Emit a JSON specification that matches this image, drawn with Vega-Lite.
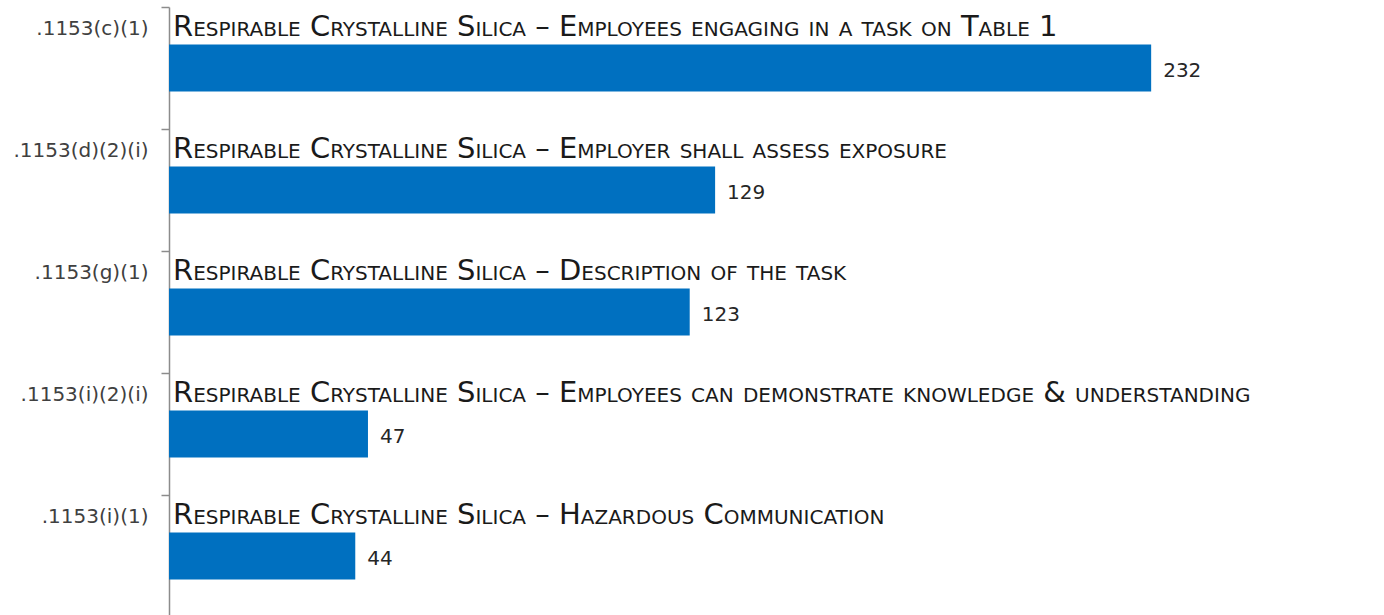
{
  "$schema": "https://vega.github.io/schema/vega-lite/v6.json",
  "autosize": "none",
  "padding": {"left": 169, "top": 7, "right": 0, "bottom": 0},
  "width": 1215,
  "height": 610,
  "background": "white",
  "data": {"values": [
    {"code": ".1153(c)(1)", "title": "Respirable Crystalline Silica – Employees engaging in a task on Table 1", "count": 232},
    {"code": ".1153(d)(2)(i)", "title": "Respirable Crystalline Silica – Employer shall assess exposure", "count": 129},
    {"code": ".1153(g)(1)", "title": "Respirable Crystalline Silica – Description of the task", "count": 123},
    {"code": ".1153(i)(2)(i)", "title": "Respirable Crystalline Silica – Employees can demonstrate knowledge & understanding", "count": 47},
    {"code": ".1153(i)(1)", "title": "Respirable Crystalline Silica – Hazardous Communication", "count": 44}
  ]},
  "encoding": {
    "y": {
      "field": "code", "type": "nominal", "sort": null,
      "scale": {"paddingInner": 0.615, "paddingOuter": 0.3075},
      "axis": {
        "title": null, "domainColor": "#8c8c8c", "domainWidth": 1.5,
        "tickColor": "#8c8c8c", "tickWidth": 1.5, "tickSize": 8, "tickOffset": -61,
        "labelOffset": 21, "labelPadding": 13, "labelFont": "DejaVu Sans", "labelFontSize": 20,
        "labelColor": "#404040", "labelBaseline": "middle", "grid": false
      }
    }
  },
  "layer": [
    {
      "mark": {"type": "bar", "color": "#0070C0"},
      "encoding": {
        "x": {"field": "count", "type": "quantitative", "scale": {"domain": [0, 287], "nice": false}, "axis": null}
      }
    },
    {
      "mark": {"type": "text", "align": "left", "baseline": "middle", "dx": 12, "dy": 3, "font": "DejaVu Sans", "fontSize": 20, "color": "#262626"},
      "encoding": {
        "x": {"field": "count", "type": "quantitative"},
        "text": {"field": "count", "type": "quantitative"}
      }
    },
    {
      "mark": {"type": "text", "style": "smallcaps", "align": "left", "baseline": "middle", "dx": 4, "dy": -41, "font": "DejaVu Sans", "fontSize": 29, "color": "#1a1a1a"},
      "encoding": {
        "x": {"datum": 0, "type": "quantitative"},
        "text": {"field": "title", "type": "nominal"}
      }
    }
  ],
  "config": {
    "view": {"stroke": null},
    "style": {"smallcaps": {"fontVariant": "small-caps"}}
  }
}
